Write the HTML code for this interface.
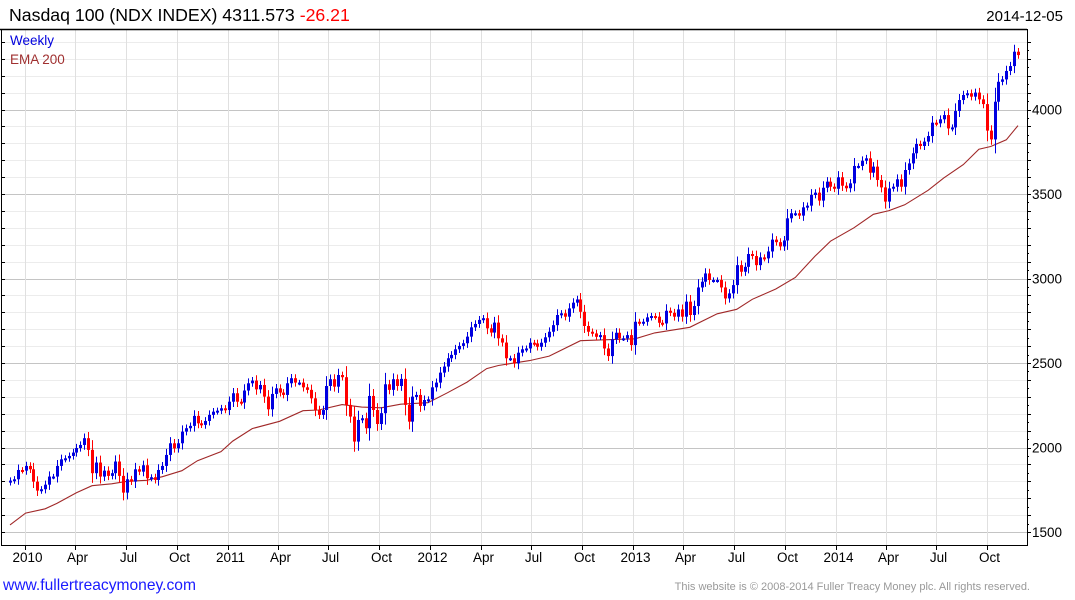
<!DOCTYPE html>
<html><head><meta charset="utf-8"><style>
body{margin:0;background:#fff;}
svg{display:block;font-family:"Liberation Sans",Arial,sans-serif;}
</style></head><body>
<svg id="chart" width="1075" height="600" viewBox="0 0 1075 600" xmlns="http://www.w3.org/2000/svg">
<rect width="1075" height="600" fill="#fff"/>
<g id="grid"></g>
<g id="ema"></g>
<g id="candles"></g>
<g id="axes"></g>
<text x="9" y="21" font-size="17.7" fill="#000">Nasdaq 100 (NDX INDEX) 4311.573 <tspan fill="#ff0000">-26.21</tspan></text>
<text x="1063" y="21" font-size="15" text-anchor="end" fill="#000">2014-12-05</text>
<text x="10" y="45" font-size="13.5" fill="#0000dd">Weekly</text>
<text x="10" y="64" font-size="13.5" fill="#a03030">EMA 200</text>
<text x="3" y="590" font-size="15.6" fill="#1a1aff">www.fullertreacymoney.com</text>
<text x="1030" y="590" font-size="11" text-anchor="end" fill="#999">This website is © 2008-2014 Fuller Treacy Money plc. All rights reserved.</text>
</svg>
<script>
const closes = [1804,1812,1867,1863,1891,1871,1798,1745,1753,1780,1828,1828,1891,1930,1936,1950,1970,1997,2015,2055,
1986,1848,1911,1828,1863,1832,1848,1917,1832,1733,1812,1798,1871,1857,1895,1818,1824,1808,1867,1891,
1956,2025,1995,2025,2094,2114,2128,2187,2143,2134,2157,2193,2212,2218,2232,2222,2271,2321,2271,2266,
2337,2380,2396,2344,2370,
2301,2226,2317,2350,2325,2311,2380,2410,2384,2384,2356,2341,2291,2222,2193,2222,2364,2404,2360,2429,
2416,2252,2183,2035,2163,2173,2114,2305,2222,2139,2203,2374,2341,2404,2364,2406,2252,2153,2301,2311,
2246,2281,2285,2356,2384,2443,2479,2528,2548,2581,2601,2617,2656,2711,2731,2755,2765,2705,2680,2739,
2646,2621,2528,2528,
2498,2561,2581,2586,2620,2616,2596,2620,2652,2685,2724,2784,2794,2774,2823,2857,2876,2803,2719,2685,
2675,2655,2665,2586,2541,2640,2679,2646,2646,2665,2606,2744,2738,2744,2770,2778,2774,2738,2734,2809,
2797,2774,2817,2774,2863,2784,2837,2947,2981,3030,2991,2991,2991,2947,2882,2912,2961,3079,3040,3069,
3145,3133,3079,3125,3119,3160,3230,3215,3190,3225,
3356,3386,3386,3372,3421,3431,3494,3508,3461,3537,3573,3543,3531,3599,3549,3534,3563,3666,3666,3697,
3711,3626,3662,3583,3539,3455,3533,3543,3587,3543,3642,3681,3741,3796,3784,3810,3843,3922,3918,3942,
3967,3888,3894,3991,4056,4086,4096,4076,4100,4060,4032,3875,3823,4046,4164,4178,4228,4257,4342,4322];
const emaWeek = [0,4,9,12,17,21,26,30,35,39,44,48,54,57,62,69,75,79,85,90,95,100,107,112,117,122,125,133,138,146,152,160,165,174,181,186,190,196,201,206,210,216,221,225,229,235,239,244,248,251,255,258];
const emaValues = [1542,1612,1637,1669,1732,1774,1785,1800,1806,1827,1863,1922,1975,2038,2112,2155,2218,2222,2254,2239,2235,2256,2265,2324,2387,2467,2485,2514,2541,2632,2637,2643,2678,2711,2791,2818,2877,2938,3006,3131,3221,3300,3380,3402,3436,3522,3595,3674,3765,3781,3821,3905];
const yTicks = [1500,2000,2500,3000,3500,4000];
const xTickLabels = ['2010','Apr','Jul','Oct','2011','Apr','Jul','Oct','2012','Apr','Jul','Oct','2013','Apr','Jul','Oct','2014','Apr','Jul','Oct'];
const xTickDates = ['2010-01-01','2010-04-01','2010-07-01','2010-10-01','2011-01-01','2011-04-01','2011-07-01','2011-10-01','2012-01-01','2012-04-01','2012-07-01','2012-10-01','2013-01-01','2013-04-01','2013-07-01','2013-10-01','2014-01-01','2014-04-01','2014-07-01','2014-10-01'];

const NS='http://www.w3.org/2000/svg';
const L=1,R=1027,T=29,B=545;
function yS(v){return 532-(v-1500)*0.169;}
function xI(i){return 10+i*(1018-10)/(closes.length-1);}
function xD(s){const d=(new Date(s+'T00:00:00Z')-new Date('2010-01-01T00:00:00Z'))/86400000;return 25.3+d*0.5548;}
function mk(tag,attrs,parent){const e=document.createElementNS(NS,tag);for(const k in attrs)e.setAttribute(k,attrs[k]);parent.appendChild(e);return e;}
const grid=document.getElementById('grid'),axes=document.getElementById('axes'),cg=document.getElementById('candles'),eg=document.getElementById('ema');

for(let v=1500;v<=4400;v+=100){
  const y=Math.round(yS(v))+0.5;
  const major=v%500===0;
  const ln=mk('line',{x1:L,x2:R,y1:y,y2:y,stroke:major?'#c4c4c4':'#ececec','stroke-width':1},grid);
  
  
  mk('line',{x1:R,x2:R+4,y1:y,y2:y,stroke:'#000'},axes);
  mk('line',{x1:L,x2:L+4,y1:y,y2:y,stroke:'#000'},axes);
}
for(let v=1550;v<=4400;v+=100){const y=Math.round(yS(v))+0.5;mk('line',{x1:R,x2:R+2,y1:y,y2:y,stroke:'#000'},axes);}
yTicks.forEach(v=>{
  const t=mk('text',{x:1032,y:yS(v)+5,'font-size':13.5,fill:'#000'},axes);
  t.textContent=v;
  
  
});
xTickDates.forEach((d,i)=>{
  const x=Math.round(xD(d))+0.5;
  const g=mk('line',{x1:x,x2:x,y1:T,y2:B,stroke:'#e0e0e0'},grid);
  
  
  mk('line',{x1:x,x2:x,y1:B,y2:B+5,stroke:'#000'},axes);
  const t=mk('text',{x:x+2,y:562,'font-size':13.5,'text-anchor':'middle',fill:'#000'},axes);
  t.textContent=xTickLabels[i];
  
  
});
const fr=mk('rect',{x:L+0.5,y:T+0.5,width:R-L,height:B-T,fill:'none',stroke:'#000','stroke-width':1},axes);


mk('line',{x1:0,x2:R,y1:T+0.5,y2:T+0.5,stroke:'#000','stroke-width':1.5},axes);

let pts=emaWeek.map((w,i)=>xI(w).toFixed(1)+','+yS(emaValues[i]).toFixed(1)).join(' ');
const ep=mk('polyline',{points:pts,fill:'none',stroke:'#a02828','stroke-width':1.1},eg);



closes.forEach((c,i)=>{
  const o=i>0?closes[i-1]:c-10;
  const up=c>=o;
  const col=up?'#0000e0':'#ff0000';
  const x=Math.round(xI(i));
  const ext=Math.abs(c-o)*0.3+16;
  const hi=Math.max(o,c)+ext,lo=Math.min(o,c)-ext;
  const g=mk('g',{},cg);
  
  
  mk('line',{x1:x+0.5,x2:x+0.5,y1:yS(hi),y2:yS(lo),stroke:col,'stroke-width':1},g);
  const yt=yS(Math.max(o,c)),yb=yS(Math.min(o,c));
  mk('rect',{x:x-1,y:yt,width:3,height:Math.max(2,yb-yt),fill:col},g);
});
</script>
</body></html>
